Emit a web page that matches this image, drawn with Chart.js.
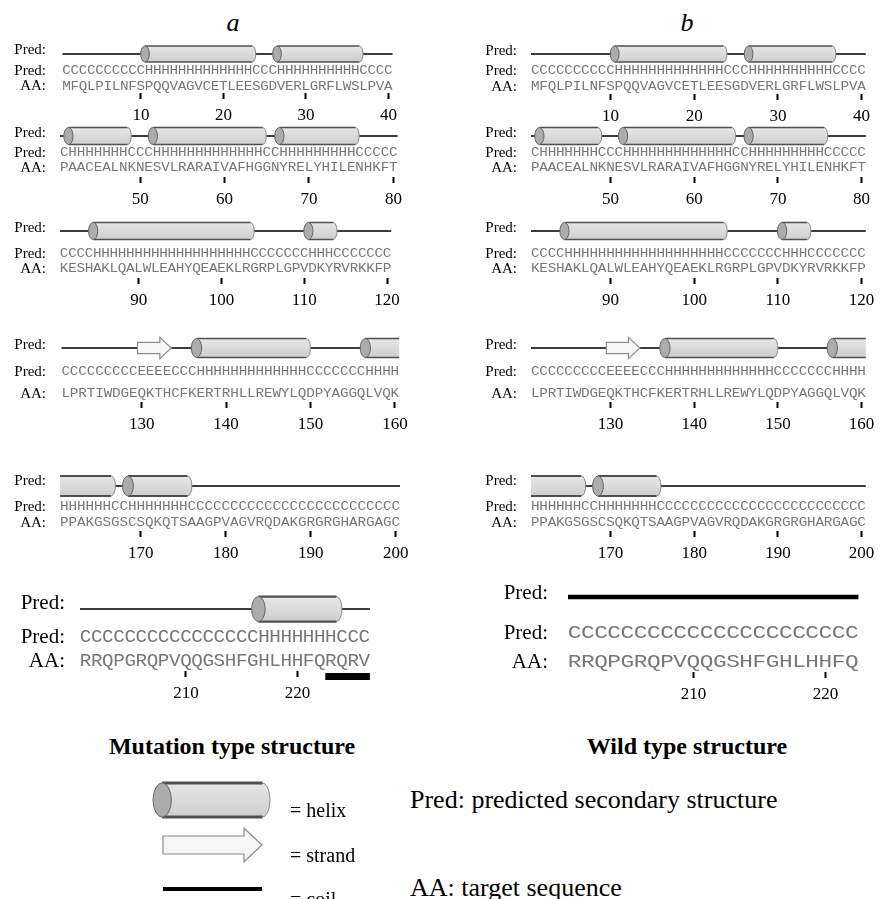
<!DOCTYPE html>
<html>
<head>
<meta charset="utf-8">
<title>Secondary structure prediction</title>
<script src="https://cdn.jsdelivr.net/npm/chart.js@4.4.1/dist/chart.umd.min.js"></script>
<style>
html,body{margin:0;padding:0;background:#fff;}
#page{position:relative;width:893px;height:899px;overflow:hidden;background:#fff;}
#page canvas{position:absolute;}
.txt{position:absolute;font-family:"Liberation Serif","Times New Roman",serif;color:#000;white-space:nowrap;line-height:1;}
</style>
</head>
<body>
<div id="page"></div>
<script>
// ---------------- DATA ----------------
const residueStarts = [1, 41, 81, 121, 161, 201];
const aaRows = [
  "MFQLPILNFSPQQVAGVCETLEESGDVERLGRFLWSLPVA",
  "PAACEALNKNESVLRARAIVAFHGGNYRELYHILENHKFT",
  "KESHAKLQALWLEAHYQEAEKLRGRPLGPVDKYRVRKKFP",
  "LPRTIWDGEQKTHCFKERTRHLLREWYLQDPYAGGQLVQK",
  "PPAKGSGSCSQKQTSAAGPVAGVRQDAKGRGRGHARGAGC"
];
const predRows = [
  "CCCCCCCCCC" + "HHHHHHHHHHHHH" + "CCC" + "HHHHHHHHHH" + "CCCC",
  "C" + "HHHHHHH" + "CCC" + "HHHHHHHHHHHHH" + "CC" + "HHHHHHHHH" + "CCCCC",
  "CCCC" + "HHHHHHHHHHHHHHHHHHH" + "CCCCCCC" + "HHH" + "CCCCCCC",
  "CCCCCCCCC" + "EEEE" + "CCC" + "HHHHHHHHHHHHH" + "CCCCCCC" + "HHHH",
  "HHHHHH" + "CC" + "HHHHHHH" + "CCCCCCCCCCCCCCCCCCCCCCCCC"
];
const mutTailAA   = "RRQPGRQPVQQGSHFGHLHHFQRQRV";
const mutTailPred = "CCCCCCCCCCCCCCCC" + "HHHHHHH" + "CCC";
const wtTailAA    = "RRQPGRQPVQQGSHFGHLHHFQ";
const wtTailPred  = "CCCCCCCCCCCCCCCCCCCCCC";
const positionTicks = [10, 20, 30, 40, 50, 60, 70, 80, 90, 100, 110, 120, 130, 140, 150, 160, 170, 180, 190, 200, 210, 220];
const mutationSpan = [223, 226];
const axisRowLabels = ["Pred:", "Pred:", "AA:"];
const panelTitles = ["a", "b"];
const panelCaptions = ["Mutation type structure", "Wild type structure"];
const legendSymbols = ["= helix", "= strand", "= coil"];
const legendNotes = ["Pred: predicted secondary structure", "AA: target sequence"];

// ---------------- LAYOUT (positions / styles only) ----------------
const LAYOUT_A = [
  {L:62.5, cw:8.25, lab:50,  ys:54,  yp:71,  ya:86.5, tick:93,  h:16, lr:46},
  {L:60,   cw:8.44, lab:133, ys:136, yp:153, ya:168,  tick:177, h:17, lr:46},
  {L:60,   cw:8.28, lab:228, ys:231, yp:254, ya:269,  tick:278, h:17, lr:46},
  {L:61.5, cw:8.44, lab:345, ys:348, yp:372, ya:394,  tick:402, h:19, lr:46},
  {L:60,   cw:8.5,  lab:481, ys:486, yp:507, ya:523,  tick:531, h:20, lr:46},
  {L:80,   cw:11.15,lab:603, ys:609, yp:637, ya:661,  tick:671, h:25, lr:65, big:true, bar:676.5}
];
const LAYOUT_B = [
  {L:531, cw:8.37, lab:51,  ys:54,  yp:71,  ya:87,  tick:94,  h:16, lr:517},
  {L:531, cw:8.37, lab:133, ys:136, yp:153, ya:168, tick:177, h:17, lr:517},
  {L:531, cw:8.37, lab:228, ys:231, yp:254, ya:269, tick:278, h:17, lr:517},
  {L:531, cw:8.37, lab:345, ys:348, yp:372, ya:394, tick:402, h:19, lr:517},
  {L:531, cw:8.37, lab:481, ys:486, yp:507, ya:523, tick:531, h:20, lr:517},
  {L:568, cw:13.2, lab:593, ys:597, yp:633, ya:662, tick:672, h:25, lr:548, big:true, thick:true}
];

const page = document.getElementById('page');

function drawHelix(ctx, x0, x1, yc, h, capL, capR) {
  const r = h / 2, rxL = h * 0.27, rxR = h * 0.22;
  ctx.save();
  ctx.beginPath();
  ctx.moveTo(x0, yc - r);
  ctx.lineTo(x1, yc - r);
  if (capR) ctx.ellipse(x1, yc, rxR, r, 0, -Math.PI / 2, Math.PI / 2, false);
  else ctx.lineTo(x1, yc + r);
  ctx.lineTo(x0, yc + r);
  ctx.closePath();
  const g = ctx.createLinearGradient(0, yc - r, 0, yc + r);
  g.addColorStop(0, '#e6e6e6'); g.addColorStop(0.5, '#dbdbdb'); g.addColorStop(1, '#cdcdcd');
  ctx.fillStyle = g; ctx.fill();
  if (capR) {
    ctx.beginPath(); ctx.ellipse(x1, yc, rxR, r, 0, -Math.PI / 2, Math.PI / 2, false);
    ctx.strokeStyle = '#8a8a8a'; ctx.lineWidth = 1; ctx.stroke();
  }
  ctx.strokeStyle = '#505050'; ctx.lineWidth = Math.max(1.5, h * 0.09);
  ctx.beginPath(); ctx.moveTo(x0, yc - r); ctx.lineTo(x1, yc - r);
  ctx.moveTo(x0, yc + r); ctx.lineTo(x1, yc + r); ctx.stroke();
  if (capL) {
    ctx.beginPath(); ctx.ellipse(x0, yc, rxL, r, 0, 0, Math.PI * 2);
    ctx.fillStyle = '#acacac'; ctx.fill();
    ctx.strokeStyle = '#666'; ctx.lineWidth = 1; ctx.stroke();
  }
  ctx.restore();
}
function drawStrand(ctx, x0, x1, yc, h) {
  const sh = h * 0.3, hh = h * 0.56, hl = h * 0.6;
  ctx.save();
  ctx.beginPath();
  ctx.moveTo(x0, yc - sh); ctx.lineTo(x1 - hl, yc - sh); ctx.lineTo(x1 - hl, yc - hh);
  ctx.lineTo(x1, yc); ctx.lineTo(x1 - hl, yc + hh); ctx.lineTo(x1 - hl, yc + sh);
  ctx.lineTo(x0, yc + sh); ctx.closePath();
  ctx.fillStyle = '#f6f6f6'; ctx.fill();
  ctx.strokeStyle = '#8c8c8c'; ctx.lineWidth = 1.2; ctx.stroke();
  ctx.restore();
}

const seqPlugin = {
  id: 'seqDraw',
  afterDatasetsDraw(chart) {
    const ctx = chart.ctx;
    chart.data.datasets.forEach((ds, i) => {
      if (!ds.kind) return;
      const pts = chart.getDatasetMeta(i).data;
      if (ds.kind === 'helix') {
        for (let k = 0; k + 1 < pts.length; k += 2)
          drawHelix(ctx, pts[k].x, pts[k + 1].x, pts[k].y, ds.h, ds.caps[k / 2][0], ds.caps[k / 2][1]);
      } else if (ds.kind === 'strand') {
        for (let k = 0; k + 1 < pts.length; k += 2)
          drawStrand(ctx, pts[k].x, pts[k + 1].x, pts[k].y, ds.h);
      } else if (ds.kind === 'letters') {
        ctx.save();
        ctx.font = ds.font; ctx.fillStyle = ds.color;
        ctx.textAlign = 'center'; ctx.textBaseline = 'middle';
        pts.forEach((p, k) => {
          ctx.save(); ctx.translate(p.x, p.y); ctx.scale(ds.sx, 1);
          ctx.fillText(ds.text[k], 0, 0); ctx.restore();
        });
        ctx.restore();
      }
    });
  }
};

function runsOf(str, test) {
  const out = []; let i = 0;
  while (i < str.length) {
    if (test(str[i])) { let j = i; while (j + 1 < str.length && test(str[j + 1])) j++; out.push([i, j]); i = j + 1; }
    else i++;
  }
  return out;
}

function makeRow(panelLeft, lay, start, aa, pred, prevChar, nextChar, withMutation) {
  const n = aa.length, end = start + n - 1;
  const cTop = Math.round(lay.ys - lay.h / 2 - 8);
  const YW = lay.L - panelLeft;
  const W = Math.ceil(YW + n * lay.cw + 18);
  const padR = W - YW - n * lay.cw;
  const H = Math.ceil(lay.tick - cTop + 40);
  const XH = H - (lay.tick - cTop);
  const labPad = lay.L - lay.lr;

  const coilData = [];
  runsOf(pred, c => c === 'C').forEach(([i, j]) => {
    coilData.push({x: start + i - 0.5, y: lay.ys}, {x: start + j + 0.5, y: lay.ys}, {x: start + j + 0.5, y: null});
  });
  const helixData = [], caps = [];
  runsOf(pred, c => c === 'H').forEach(([i, j]) => {
    helixData.push({x: start + i - 0.5, y: lay.ys}, {x: start + j + 0.5, y: lay.ys});
    caps.push([!(i === 0 && prevChar === 'H'), !(j === n - 1 && nextChar === 'H')]);
  });
  const strandData = [];
  runsOf(pred, c => c === 'E').forEach(([i, j]) => {
    strandData.push({x: start + i - 0.5, y: lay.ys}, {x: start + j + 0.5, y: lay.ys});
  });
  const ff = lay.big ? 17.5 : 13;
  const sx = lay.big ? (lay.thick ? 1.3 : 1.1) : 1.1;
  const letterFont = ff + 'px "Liberation Mono", monospace';
  const predData = pred.split('').map((c, k) => ({x: start + k, y: lay.yp}));
  const aaData = aa.split('').map((c, k) => ({x: start + k, y: lay.ya}));

  const datasets = [
    {type: 'line', data: coilData, borderColor: lay.thick ? '#000' : '#3c3c3c', borderWidth: lay.thick ? 4.5 : 2,
     pointRadius: 0, spanGaps: false, order: 10, clip: false, borderCapStyle: 'butt'},
    {type: 'line', kind: 'helix', data: helixData, caps: caps, h: lay.h, showLine: false, pointRadius: 0, order: 5},
    {type: 'line', kind: 'strand', data: strandData, h: lay.h, showLine: false, pointRadius: 0, order: 5},
    {type: 'line', kind: 'letters', data: predData, text: pred, font: letterFont, color: '#777', sx: sx, showLine: false, pointRadius: 0, order: 1},
    {type: 'line', kind: 'letters', data: aaData, text: aa, font: letterFont, color: '#777', sx: sx, showLine: false, pointRadius: 0, order: 1}
  ];
  if (withMutation) {
    datasets.push({type: 'line', data: [{x: mutationSpan[0] - 0.5, y: lay.bar}, {x: mutationSpan[1] + 0.5, y: lay.bar}],
      borderColor: '#000', borderWidth: 7, pointRadius: 0, clip: false, borderCapStyle: 'butt', order: 0});
  }

  const cv = document.createElement('canvas');
  cv.width = W; cv.height = H;
  cv.style.left = panelLeft + 'px'; cv.style.top = cTop + 'px';
  cv.style.width = W + 'px'; cv.style.height = H + 'px';
  page.appendChild(cv);

  new Chart(cv, {
    type: 'line',
    data: {datasets},
    options: {
      responsive: false, animation: false, devicePixelRatio: 1, events: [],
      layout: {padding: {left: 0, top: 0, right: padR, bottom: 0}},
      plugins: {legend: {display: false}, tooltip: {enabled: false}},
      scales: {
        x: {
          type: 'linear', min: start - 0.5, max: end + 0.5, bounds: 'data',
          afterBuildTicks: ax => { ax.ticks = positionTicks.filter(v => v >= start && v <= end).map(v => ({value: v})); },
          afterFit: ax => { ax.height = XH; ax.paddingLeft = 0; ax.paddingRight = 0; },
          grid: {display: true, drawOnChartArea: false, drawTicks: true, tickLength: 6, tickWidth: 2, tickColor: '#000'},
          border: {display: false},
          ticks: {autoSkip: false, maxRotation: 0, padding: 6, color: '#000',
                  font: {family: '"Liberation Serif", serif', size: 17}, callback: v => String(v)}
        },
        y: {
          type: 'linear', reverse: true, min: cTop, max: lay.tick, bounds: 'data',
          afterBuildTicks: ax => { ax.ticks = [lay.lab, lay.yp, lay.ya].map(v => ({value: v})); },
          afterFit: ax => { ax.width = YW; ax.paddingTop = 0; ax.paddingBottom = 0; },
          grid: {display: false, drawTicks: false, tickLength: 0}, border: {display: false},
          ticks: {autoSkip: false, padding: labPad, color: '#000',
                  font: {family: '"Liberation Serif", serif', size: lay.big ? 21 : 15},
                  callback: (v, i) => axisRowLabels[i]}
        }
      }
    },
    plugins: [seqPlugin]
  });
}

const mutPredAll = predRows.join('') + mutTailPred;
const wtPredAll = predRows.join('') + wtTailPred;

function buildPanel(panelLeft, layout, tailAA, tailPred, predAll, withMutation) {
  const rowsAA = aaRows.concat([tailAA]);
  const rowsPred = predRows.concat([tailPred]);
  rowsAA.forEach((aa, r) => {
    const start = residueStarts[r];
    const prevChar = start > 1 ? predAll[start - 2] : '';
    const nextChar = predAll[start - 1 + aa.length] || '';
    makeRow(panelLeft, layout[r], start, aa, rowsPred[r], prevChar, nextChar, withMutation && r === 5);
  });
}
buildPanel(0, LAYOUT_A, mutTailAA, mutTailPred, mutPredAll, true);
buildPanel(440, LAYOUT_B, wtTailAA, wtTailPred, wtPredAll, false);

// ---------------- TEXT ----------------
function addText(t, x, y, size, opts) {
  const d = document.createElement('div');
  d.className = 'txt'; d.textContent = t;
  d.style.left = x + 'px'; d.style.top = y + 'px'; d.style.fontSize = size + 'px';
  d.style.transform = (opts && opts.center) ? 'translate(-50%,-50%)' : 'translate(0,-50%)';
  if (opts && opts.italic) d.style.fontStyle = 'italic';
  if (opts && opts.bold) d.style.fontWeight = 'bold';
  page.appendChild(d);
}
addText(panelTitles[0], 233, 23, 26, {center: true, italic: true});
addText(panelTitles[1], 687, 23, 26, {center: true, italic: true});
addText(panelCaptions[0], 232, 746, 24, {center: true, bold: true});
addText(panelCaptions[1], 687, 746, 24, {center: true, bold: true});

// ---------------- LEGEND ----------------
const lg = document.createElement('canvas');
lg.width = 160; lg.height = 129;
lg.style.left = '140px'; lg.style.top = '770px';
page.appendChild(lg);
const lctx = lg.getContext('2d');
const HL = 34;
drawHelix(lctx, 153 - 140 + HL * 0.27, 270 - 140 - HL * 0.22, 800 - 770, HL, true, true);
drawStrand(lctx, 163 - 140, 262 - 140, 845 - 770, 30);
lctx.fillStyle = '#000'; lctx.fillRect(163 - 140, 889 - 770 - 2, 99, 4);

addText(legendSymbols[0], 290, 810, 20);
addText(legendSymbols[1], 290, 855, 20);
addText(legendSymbols[2], 290, 899, 20);
addText(legendNotes[0], 410, 800, 26);
addText(legendNotes[1], 410, 888, 26);
</script>
</body>
</html>
